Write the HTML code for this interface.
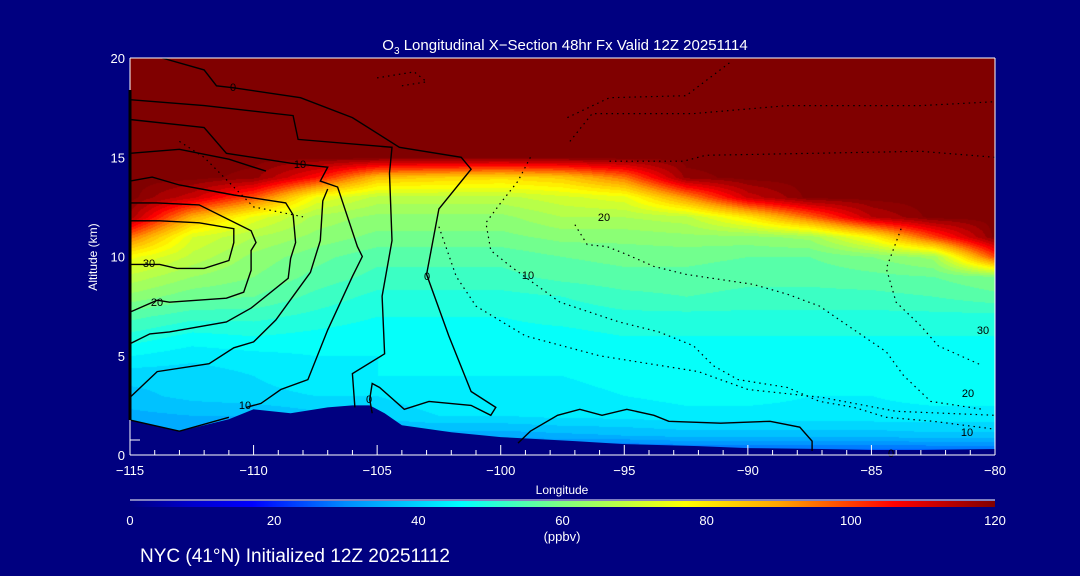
<!DOCTYPE html>
<html><head><meta charset="utf-8">
<style>
html,body{margin:0;padding:0;background:#000080;}
#root{position:relative;width:1080px;height:576px;background:#000080;overflow:hidden;font-family:"Liberation Sans",sans-serif;color:#fff;}
canvas{position:absolute;left:130px;top:58px;}
svg{position:absolute;left:0;top:0;}
</style></head>
<body>
<div id="root">
<canvas id="field" width="865" height="397"></canvas>
<svg id="svg" width="1080" height="576"></svg>
</div>
<script>
// ---- data ----
const lons = [-115,-112.5,-110,-107.5,-105,-102.5,-100,-97.5,-95,-92.5,-90,-87.5,-85,-82.5,-80];
const alts = [0,1,2,3,4,5,6,7,8,9,10,11,12,13,14,15,16,17,18,19,20];
// ozone (ppbv) rows by altitude index 0..20, columns by lon
const ozone = [
 [30,30,30,30,30,30,25,22,20,22,22,22,22,22,22],
 [33,34,34,34,34,34,34,35,36,37,37,37,37,38,38],
 [35,36,36,38,40,42,42,43,43,44,44,44,44,44,44],
 [38,40,41,42,42,44,44,44,45,46,46,45,45,46,46],
 [40,40,42,44,45,45,45,45,46,47,47,46,46,46,46],
 [45,43,44,45,45,46,46,46,47,47,47,47,46,46,46],
 [50,47,48,47,46,47,47,47,48,48,48,48,48,48,48],
 [55,52,52,50,48,48,48,49,50,50,50,50,50,50,50],
 [62,58,57,53,50,50,50,51,53,54,53,53,53,54,56],
 [68,63,60,56,53,53,53,55,56,56,55,55,56,57,60],
 [76,68,62,58,55,55,55,57,58,58,57,57,60,64,100],
 [95,72,66,62,59,59,59,61,61,62,62,64,78,100,120],
 [116,88,74,65,62,62,62,66,66,68,80,96,114,120,120],
 [120,112,98,75,68,68,68,71,74,92,112,120,120,120,120],
 [120,120,118,105,86,84,82,85,95,118,120,120,120,120,120],
 [120,120,120,120,120,120,120,120,120,120,120,120,120,120,120],
 [120,120,120,120,120,120,120,120,120,120,120,120,120,120,120],
 [120,120,120,120,120,120,120,120,120,120,120,120,120,120,120],
 [120,120,120,120,120,120,120,120,120,120,120,120,120,120,120],
 [120,120,120,120,120,120,120,120,120,120,120,120,120,120,120],
 [120,120,120,120,120,120,120,120,120,120,120,120,120,120,120]
];
const terrainLon = [-115,-113,-111,-110,-108.5,-107,-106,-105.3,-104.7,-104,-102,-100,-97,-95,-92,-90,-87,-85,-83,-80];
const terrainAlt = [1.76,1.2,1.8,2.3,2.1,2.4,2.5,2.5,2.1,1.5,1.15,0.9,0.7,0.55,0.45,0.35,0.3,0.25,0.25,0.3];
const xTicks = [-115,-110,-105,-100,-95,-90,-85,-80];
const yTicks = [0,5,10,15,20];
const cbTicks = [0,20,40,60,80,100,120];
// contour lines [lon,alt] pairs
const solidLines = [
 [[-113.7,20],[-112,19.4],[-111.5,18.6],[-110.8,18.5],[-108.1,18],[-106,17],[-104.1,15.5],[-101.6,15],[-101.2,14.4],[-102.5,12.4],[-103,9.1],[-102.1,6],[-101.2,3.2],[-100.2,2.4],[-100.4,2],[-101.2,2.5],[-102.9,2.7],[-103.9,2.3],[-104.9,3.4],[-105.2,3.6],[-105.3,2.8],[-105.2,2.1]],
 [[-115,17.9],[-112,17.6],[-108.4,17.1],[-108.2,15.9],[-104.4,15.5],[-104.5,14.2],[-104.4,10.8],[-104.8,8],[-104.7,5.1],[-106,4.1],[-105.9,2.4]],
 [[-115,16.9],[-112,16.5],[-111.1,15.2],[-108.5,14.7],[-107,14.5],[-107.3,13.8],[-106.6,13.5],[-105.8,10.5],[-105.6,10],[-106,9],[-107,6.3],[-107.8,3.8],[-108.9,3.3],[-109.7,2.6],[-110.3,2.4]],
 [[-115,11.8],[-113.8,11.8],[-112.2,11.7],[-110.8,11.4],[-110.8,10.7],[-111,9.8],[-112,9.4],[-113.1,9.4],[-113.8,9.6],[-115,9.6]],
 [[-115,12.7],[-113.9,12.7],[-112.2,12.6],[-110.1,11.3],[-109.9,10.7],[-110.1,10.3],[-110.1,9.3],[-110.4,8.2],[-111.1,7.9],[-113.4,7.7],[-113.9,7.8],[-115,7.2]],
 [[-115,13.8],[-114.1,14],[-113,13.6],[-110.8,13.1],[-108.7,12.7],[-108.4,12.1],[-108.3,10.7],[-108.5,9.9],[-108.6,8.9],[-110.1,7.4],[-111.1,6.7],[-113.4,6.2],[-114.2,6.1],[-115,5.6]],
 [[-115,2.9],[-113.9,4.2],[-111.8,4.6],[-110.8,5.4],[-110,5.7],[-109.1,6.8],[-108.4,8],[-107.7,9.2],[-107.3,10.8],[-107.2,12.8],[-107,13.4]],
 [[-115,15.2],[-113,15.4],[-111,14.9],[-109.5,14.3]],
 [[-99.3,0.6],[-98.8,1.2],[-97.7,2],[-96.8,2.3],[-95.9,2],[-94.9,2.3],[-93.8,2],[-93.2,1.7],[-91.1,1.6],[-89.1,1.7],[-87.9,1.4],[-87.4,0.7],[-87.4,0.2]],
 [[-115,1.76],[-113,1.2],[-111,1.9]]
];
const dottedLines = [
 [[-98.8,15],[-99.3,13.8],[-100,12.7],[-100.6,11.7],[-100.4,10.3],[-99.6,9.5],[-97.6,7.7],[-95.2,6.7],[-93.6,6.2],[-92.2,5.5],[-91.4,4.5],[-90.4,3.8],[-88.4,3.4],[-87.1,2.7],[-85.7,2.4],[-84.4,1.9],[-82.5,1.7],[-80,1.3]],
 [[-97,11.6],[-96.5,10.6],[-95.7,10.5],[-94.9,10.1],[-93.8,9.5],[-92.5,9.1],[-89.8,8.6],[-88.4,8.1],[-87.1,7.5],[-85.7,6.3],[-84.4,5.2],[-83.7,4],[-82.6,2.7],[-80.5,2.3]],
 [[-83.8,11.4],[-84.4,9.4],[-84,7.7],[-83,6.5],[-82.3,5.5],[-80.5,4.5]],
 [[-97.3,17],[-95.6,18],[-92.5,18.1],[-90.7,19.8]],
 [[-97.2,15.8],[-96.3,17.2],[-92.2,17.2],[-88.4,17.6],[-83,17.6],[-80,17.8]],
 [[-95.6,14.8],[-92.6,14.8],[-91.7,15.1],[-83,15.3],[-80,15]],
 [[-102.5,11.5],[-101.8,9],[-101,7.5],[-99,6],[-96,5],[-92,4.2],[-90,3.3],[-87,2.9],[-84,2.2],[-80,2]],
 [[-113,15.8],[-112,15],[-110,12.5],[-108,12]],
 [[-105,19],[-103.5,19.3],[-103,18.8],[-104,18.6]]
];
// ---- scales ----
const X0=130,X1=995,Y0=455,Y1=58;
const xs = lon => X0 + (lon - (-115)) / 35 * (X1 - X0);
const ys = alt => Y0 - alt / 20 * (Y0 - Y1);
const cmapV=[0,8,17,30,46,60,77,90,106,120];
const cmapC=[[0,0,128],[0,0,200],[0,0,255],[0,140,255],[0,255,255],[128,255,128],[255,255,0],[255,165,0],[255,0,0],[128,0,0]];
function cmap(v){v=Math.max(0,Math.min(120,v));for(let i=1;i<cmapV.length;i++){if(v<=cmapV[i]){const t=(v-cmapV[i-1])/(cmapV[i]-cmapV[i-1]);const a=cmapC[i-1],b=cmapC[i];return [a[0]+(b[0]-a[0])*t,a[1]+(b[1]-a[1])*t,a[2]+(b[2]-a[2])*t];}}return cmapC[cmapC.length-1];}
// ---- field ----
const cv=document.getElementById('field');const ctx=cv.getContext('2d');
const img=ctx.createImageData(865,397);
for(let py=0;py<397;py++){
 const alt=(Y0-(py+58))/(Y0-Y1)*20;
 let ai=Math.min(alts.length-2,Math.max(0,Math.floor(alt)));let at=(alt-alts[ai])/(alts[ai+1]-alts[ai]);at=Math.max(0,Math.min(1,at));
 for(let px=0;px<865;px++){
  const lon=-115+(px)/(865)*35;
  let li=Math.min(lons.length-2,Math.max(0,Math.floor((lon+115)/2.5)));let lt=(lon-lons[li])/(lons[li+1]-lons[li]);
  const v=(ozone[ai][li]*(1-lt)+ozone[ai][li+1]*lt)*(1-at)+(ozone[ai+1][li]*(1-lt)+ozone[ai+1][li+1]*lt)*at;
  const q=Math.min(120,Math.floor(v/3)*3+1.5);
  const c=cmap(v>=119?120:q);const k=(py*865+px)*4;
  img.data[k]=c[0];img.data[k+1]=c[1];img.data[k+2]=c[2];img.data[k+3]=255;
 }
}
ctx.putImageData(img,0,0);
// ---- svg ----
const NS='http://www.w3.org/2000/svg';const svg=document.getElementById('svg');
function mk(tag,attrs,parent){const e=document.createElementNS(NS,tag);for(const k in attrs)e.setAttribute(k,attrs[k]);(parent||svg).appendChild(e);return e;}
function txt(x,y,s,size,anchor,extra){const t=mk('text',Object.assign({x:x,y:y,fill:'#fff','font-size':size,'text-anchor':anchor||'middle','font-family':'Liberation Sans, sans-serif'},extra||{}));t.textContent=s;return t;}
// terrain
let tp='M'+xs(terrainLon[0])+','+Y0;
terrainLon.forEach((l,i)=>{tp+=' L'+xs(l).toFixed(1)+','+ys(terrainAlt[i]).toFixed(1);});
tp+=' L'+X1+','+Y0+' Z';
const terr=mk('path',{d:tp,fill:'#000080'});


// contours
const cg=mk('g',{fill:'none',stroke:'#000'});


solidLines.forEach(line=>{const p=mk('polyline',{points:line.map(q=>xs(q[0]).toFixed(1)+','+ys(q[1]).toFixed(1)).join(' '),'stroke-width':1.4},cg);
 
 });
dottedLines.forEach(line=>{const p=mk('polyline',{points:line.map(q=>xs(q[0]).toFixed(1)+','+ys(q[1]).toFixed(1)).join(' '),'stroke-width':1.2,'stroke-dasharray':'1.5 4'},cg);
 
 });
const clabels=[[233,91,'0'],[300,168,'10'],[149,267,'30'],[157,306,'20'],[245,409,'10'],[427,280,'0'],[369,403,'0'],[604,221,'20'],[528,279,'10'],[983,334,'30'],[968,397,'20'],[967,436,'10'],[891,457,'0']];
clabels.forEach(c=>{const t=txt(c[0],c[1],c[2],11,'middle',{fill:'#000'});
 
 });
// axes
const ax=mk('g',{stroke:'#fff','stroke-width':1});


mk('line',{x1:X0,y1:Y1,x2:X1,y2:Y1},ax);
mk('line',{x1:X1,y1:Y1,x2:X1,y2:Y0},ax);
mk('line',{x1:X0,y1:Y0,x2:X1,y2:Y0},ax);
mk('line',{x1:X0,y1:Y1,x2:X0,y2:Y0},ax);
mk('line',{x1:X0,y1:90,x2:X0,y2:420,stroke:'#000','stroke-width':3},ax);
mk('line',{x1:X0,y1:440,x2:X0+10,y2:440},ax);
for(let l=-115;l<=-80;l++){const major=(l%5===0);mk('line',{x1:xs(l),y1:Y0,x2:xs(l),y2:Y0-(major?10:5)},ax);}
xTicks.forEach(l=>{const t=txt(xs(l),475,'\u2212'+Math.abs(l),13);
 
 });
yTicks.forEach(a=>{const t=txt(125,ys(a)+5,String(a),13,'end');
 
 });
const xt=txt(562,494,'Longitude',12);


const yt=txt(97,257,'Altitude (km)',12,'middle',{transform:'rotate(-90 97 257)'});


// title
const title=mk('text',{x:565,y:50,fill:'#fff','font-size':15,'text-anchor':'middle','font-family':'Liberation Sans, sans-serif'});


title.innerHTML='O<tspan font-size="10" dy="4">3</tspan><tspan dy="-4"> Longitudinal X\u2212Section 48hr  Fx Valid 12Z 20251114</tspan>';
// colorbar
const defs=mk('defs',{});const grad=mk('linearGradient',{id:'cbg',x1:0,x2:1,y1:0,y2:0},defs);
cmapV.forEach((v,i)=>{mk('stop',{offset:v/120,'stop-color':'rgb('+cmapC[i].join(',')+')'},grad);});
const cb=mk('rect',{x:X0,y:501,width:X1-X0,height:6,fill:'url(#cbg)'});


mk('line',{x1:X0,y1:500,x2:X1,y2:500,stroke:'#fff','stroke-width':1});
cbTicks.forEach(v=>{const t=txt(X0+v/120*(X1-X0),525,String(v),13);
 
 });
const un=txt(562,541,'(ppbv)',13);


const ft=txt(140,562,'NYC (41\u00b0N) Initialized 12Z 20251112',19,'start');


</script>
</body></html>
